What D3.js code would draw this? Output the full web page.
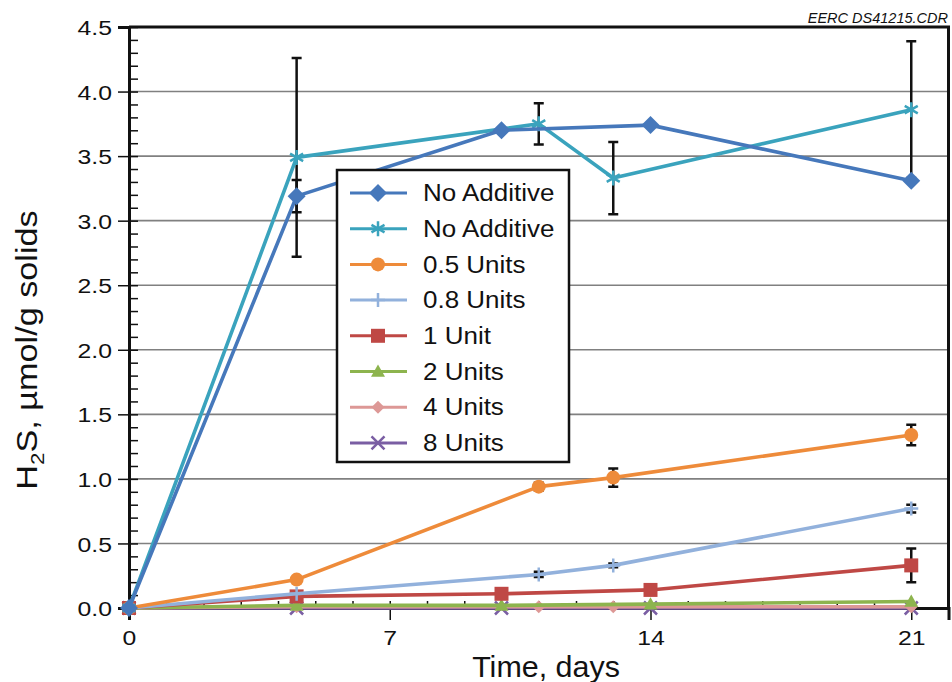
<!DOCTYPE html>
<html>
<head>
<meta charset="utf-8">
<script src="https://cdn.jsdelivr.net/npm/d3@7"></script>
<style>
  html, body { margin: 0; padding: 0; background: #fff; }
  svg { display: block; }
  text { font-family: "Liberation Sans", Arial, sans-serif; fill: #111; }
</style>
</head>
<body>
<svg id="chart" width="952" height="682"></svg>
<script>
// Sampling days (two measurement schedules)
const daysSetA = [0, 4.5, 10, 14, 21];
const daysSetB = [0, 4.5, 11, 13, 21];

// H2S generated, µmol/g solids
const noAdditiveA = [0, 3.19, 3.70, 3.74, 3.31];
const noAdditiveB = [0, 3.49, 3.75, 3.33, 3.86];
const units05     = [0, 0.22, 0.94, 1.01, 1.34];
const units08     = [0, 0.11, 0.26, 0.33, 0.77];
const units1      = [0, 0.09, 0.11, 0.14, 0.33];
const units2      = [0, 0.02, 0.02, 0.03, 0.05];
const units4      = [0, 0.01, 0.01, 0.01, 0.01];
const units8      = [0, 0, 0, 0, 0];

// Standard deviations (error bars)
const errNoAdditiveA = [0, 0.125, 0, 0, 0];
const errNoAdditiveB = [0, 0.77, 0.16, 0.28, 0.53];
const errUnits05     = [0, 0, 0.03, 0.07, 0.08];
const errUnits08     = [0, 0, 0.02, 0.015, 0.03];
const errUnits1      = [0, 0, 0, 0.03, 0.13];
const errUnits2      = [0, 0, 0, 0, 0];
const errUnits4      = [0, 0, 0, 0, 0];
const errUnits8      = [0, 0, 0, 0, 0];

const seriesLabels = ["No Additive", "No Additive", "0.5 Units", "0.8 Units", "1 Unit", "2 Units", "4 Units", "8 Units"];
const seriesColors = ["#4678bb", "#3aa3bd", "#ee8b3a", "#92b1dc", "#bf4845", "#8db44e", "#dd9896", "#7a5ea3"];
const seriesMarkers = ["diamond", "asterisk", "circle", "plus", "square", "triangle", "smallDiamond", "times"];

const xTickValues = [0, 7, 14, 21];
const yTickValues = [0, 0.5, 1, 1.5, 2, 2.5, 3, 3.5, 4, 4.5];

const series = [
  { days: daysSetA, values: noAdditiveA, err: errNoAdditiveA },
  { days: daysSetB, values: noAdditiveB, err: errNoAdditiveB },
  { days: daysSetB, values: units05, err: errUnits05 },
  { days: daysSetB, values: units08, err: errUnits08 },
  { days: daysSetA, values: units1, err: errUnits1 },
  { days: daysSetA, values: units2, err: errUnits2 },
  { days: daysSetB, values: units4, err: errUnits4 },
  { days: daysSetA, values: units8, err: errUnits8 }
].map((s, i) => ({
  label: seriesLabels[i],
  color: seriesColors[i],
  marker: seriesMarkers[i],
  points: s.days.map((d, j) => ({ day: d, value: s.values[j], err: s.err[j] }))
}));

const svg = d3.select("#chart");
const SX = 1.18; // horizontal glyph stretch

const x = d3.scaleLinear().domain([0, 22]).range([129, 948.5]);
const y = d3.scaleLinear().domain([0, 4.5]).range([608, 27]);

// Marker shapes
function markerPath(type) {
  switch (type) {
    case "diamond": { const r = 9; return `M0,${-r}L${r},0L0,${r}L${-r},0Z`; }
    case "smallDiamond": { const r = 6.5; return `M0,${-r}L${r},0L0,${r}L${-r},0Z`; }
    case "square": { const r = 7; return `M${-r},${-r}H${r}V${r}H${-r}Z`; }
    case "triangle": { const r = 7; return `M0,${-r}L${r},${r * 0.75}L${-r},${r * 0.75}Z`; }
    case "circle": { const r = 7; return `M${r},0A${r},${r} 0 1,1 ${-r},0A${r},${r} 0 1,1 ${r},0Z`; }
    case "plus": { const r = 7; return `M${-r},0H${r}M0,${-r}V${r}`; }
    case "times": { const r = 6.5; return `M${-r},${-r}L${r},${r}M${-r},${r}L${r},${-r}`; }
    case "asterisk": { const r = 7.5, c = r * 0.87, h = r * 0.5;
      return `M0,${-r}V${r}M${-c},${-h}L${c},${h}M${-c},${h}L${c},${-h}`; }
  }
}
const strokeMarkers = new Set(["plus", "times", "asterisk"]);
function drawMarker(g, type, color) {
  const p = g.append("path").attr("d", markerPath(type));
  if (strokeMarkers.has(type)) {
    p.attr("fill", "none").attr("stroke", color).attr("stroke-width", 2.5);
  } else {
    p.attr("fill", color).attr("stroke", "none");
  }
  return p;
}

// Horizontal gridlines
svg.append("g")
  .selectAll("line")
  .data(yTickValues.filter(v => v > 0 && v < 4.5))
  .join("line")
  .attr("x1", x(0)).attr("x2", x(22))
  .attr("y1", d => y(d)).attr("y2", d => y(d))
  .attr("stroke", "#808080").attr("stroke-width", 1.6);

// Minor ticks (inside the plot)
const yMinor = d3.range(0, 46).map(i => i / 10);
svg.append("g")
  .attr("transform", `translate(${x(0)},0)`)
  .call(d3.axisRight(y).tickValues(yMinor).tickSize(9).tickFormat(""))
  .call(g => g.select(".domain").remove())
  .call(g => g.selectAll(".tick line").attr("stroke", "#111").attr("stroke-width", 1.5));

svg.append("g")
  .attr("transform", `translate(0,${y(0)})`)
  .call(d3.axisTop(x).tickValues(d3.range(0, 23)).tickSize(7).tickFormat(""))
  .call(g => g.select(".domain").remove())
  .call(g => g.selectAll(".tick line").attr("stroke", "#111").attr("stroke-width", 1.5));

// Major axes
const yAxis = svg.append("g")
  .attr("transform", `translate(${x(0)},0)`)
  .call(d3.axisLeft(y).tickValues(yTickValues).tickSize(11).tickPadding(6).tickFormat(d3.format(".1f")));
yAxis.select(".domain").attr("stroke", "#111").attr("stroke-width", 3);
yAxis.selectAll(".tick line").attr("stroke", "#111").attr("stroke-width", 1.5);
yAxis.selectAll(".tick text")
  .attr("font-size", 21).attr("font-family", "Liberation Sans, Arial, sans-serif").attr("fill", "#111")
  .attr("x", -17 / SX).attr("dy", "0.36em")
  .attr("transform", `scale(${SX},1)`);

const xAxis = svg.append("g")
  .attr("transform", `translate(0,${y(0)})`)
  .call(d3.axisBottom(x).tickValues(xTickValues).tickSize(12).tickPadding(6).tickFormat(d3.format("d")));
xAxis.select(".domain").attr("stroke", "#111").attr("stroke-width", 3);
xAxis.selectAll(".tick line").attr("stroke", "#111").attr("stroke-width", 1.5);
xAxis.selectAll(".tick text")
  .attr("font-size", 21).attr("font-family", "Liberation Sans, Arial, sans-serif").attr("fill", "#111")
  .attr("y", 37).attr("dy", 0)
  .attr("transform", `scale(${SX},1)`);

// Frame: top and right edges
svg.append("path")
  .attr("d", `M${x(0)},${y(4.5)}H${x(22)}V${y(0)}`)
  .attr("fill", "none").attr("stroke", "#111").attr("stroke-width", 3);

// Error bars
const errG = svg.append("g");
series.forEach(s => {
  s.points.filter(p => p.err > 0).forEach(p => {
    const cx = x(p.day), y1 = y(p.value + p.err), y2 = y(p.value - p.err);
    errG.append("path")
      .attr("d", `M${cx},${y1}V${y2}M${cx - 5},${y1}H${cx + 5}M${cx - 5},${y2}H${cx + 5}`)
      .attr("fill", "none").attr("stroke", "#111").attr("stroke-width", 2.5);
  });
});

// Series lines and markers
const line = d3.line().x(d => x(d.day)).y(d => y(d.value));
series.slice().reverse().forEach(s => {
  const g = svg.append("g");
  g.append("path")
    .attr("d", line(s.points))
    .attr("fill", "none").attr("stroke", s.color).attr("stroke-width", 3.6)
    .attr("stroke-linejoin", "round");
  s.points.forEach(p => {
    const mg = g.append("g").attr("transform", `translate(${x(p.day)},${y(p.value)})`);
    drawMarker(mg, s.marker, s.color);
  });
});

// Legend
const legend = svg.append("g");
legend.append("rect")
  .attr("x", 337).attr("y", 170).attr("width", 232).attr("height", 292)
  .attr("fill", "#fff").attr("stroke", "#111").attr("stroke-width", 2.5);
series.forEach((s, i) => {
  const ly = 193 + i * 35.7;
  const row = legend.append("g").attr("transform", `translate(0,${ly})`);
  row.append("line").attr("x1", 350).attr("x2", 407).attr("y1", 0).attr("y2", 0)
    .attr("stroke", s.color).attr("stroke-width", 3);
  drawMarker(row.append("g").attr("transform", "translate(378,0)"), s.marker, s.color);
  row.append("text")
    .attr("transform", `translate(423,0) scale(1.13,1)`)
    .attr("dy", "0.36em")
    .attr("font-size", 23)
    .text(s.label);
});

// Axis titles
svg.append("text")
  .attr("transform", `translate(546,677) scale(1.05,1)`)
  .attr("text-anchor", "middle")
  .attr("font-size", 29)
  .text("Time, days");

const yTitle = svg.append("text")
  .attr("transform", `translate(37,350) rotate(-90) scale(1.18,1)`)
  .attr("text-anchor", "middle")
  .attr("font-size", 29);
yTitle.append("tspan").text("H");
yTitle.append("tspan").attr("font-size", 19).attr("dy", 7).text("2");
yTitle.append("tspan").attr("dy", -7).text("S, µmol/g solids");

// Drawing reference tag
svg.append("text")
  .attr("x", 948).attr("y", 23)
  .attr("text-anchor", "end")
  .attr("font-style", "italic")
  .attr("font-size", 14.5)
  .text("EERC DS41215.CDR");
</script>
</body>
</html>
